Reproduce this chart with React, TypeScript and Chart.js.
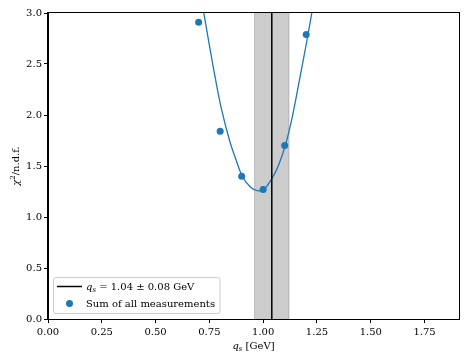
import React, { useEffect, useRef } from "react";
import { Chart, registerables } from "chart.js";

Chart.register(...registerables);

// ---- data ----
const measX = [0.7, 0.8, 0.9, 1.0, 1.1, 1.2];
const measY = [2.91, 1.84, 1.4, 1.27, 1.7, 2.79];
const measLabel = "Sum of all measurements";

const fitX = [0.72, 0.747, 0.775, 0.806, 0.845, 0.869, 0.903, 0.939, 0.973, 1.004, 1.04, 1.07, 1.104, 1.135, 1.17, 1.205, 1.23];
const fitY = [3.05, 2.72, 2.39, 2.06, 1.74, 1.59, 1.4, 1.297, 1.258, 1.272, 1.375, 1.5, 1.71, 1.98, 2.36, 2.75, 3.05];

const qsCentral = 1.04;
const qsError = 0.08;

const xTicks = [0, 0.25, 0.5, 0.75, 1.0, 1.25, 1.5, 1.75];
const yTicks = [0, 0.5, 1.0, 1.5, 2.0, 2.5, 3.0];
const xRange = [0, 1.91];
const yRange = [0, 3.0];

// ---- styling ----
const FAM = '"DejaVu Serif", serif';
const REG = `10px ${FAM}`;
const ITA = `italic 10px ${FAM}`;
const SUBI = `italic 7px ${FAM}`;
const SUP = `7px ${FAM}`;
const BLUE = "#1f77b4";

type Seg = { t: string; font: string; dy?: number };

function segsWidth(ctx: CanvasRenderingContext2D, segs: Seg[]) {
  let w = 0;
  for (const s of segs) {
    ctx.font = s.font;
    w += ctx.measureText(s.t).width;
  }
  return w;
}

function drawSegs(ctx: CanvasRenderingContext2D, segs: Seg[], x: number, y: number) {
  let cx = x;
  for (const s of segs) {
    ctx.font = s.font;
    ctx.fillText(s.t, cx, y + (s.dy || 0));
    cx += ctx.measureText(s.t).width;
  }
}

const xTitleSegs: Seg[] = [
  { t: "q", font: ITA },
  { t: "s", font: SUBI, dy: 2 },
  { t: " [GeV]", font: REG },
];
const yTitleSegs: Seg[] = [
  { t: "χ", font: ITA },
  { t: "2", font: SUP, dy: -4 },
  { t: "/n.d.f.", font: REG },
];
const qsLabelSegs: Seg[] = [
  { t: "q", font: ITA },
  { t: "s", font: SUBI, dy: 2 },
  { t: ` = ${qsCentral.toFixed(2)} ± ${qsError.toFixed(2)} GeV`, font: REG },
];

const bandPlugin = {
  id: "band",
  beforeDatasetsDraw(chart: any) {
    const { ctx, chartArea, scales } = chart;
    const x = scales.x;
    const l = x.getPixelForValue(qsCentral - qsError);
    const r = x.getPixelForValue(qsCentral + qsError);
    ctx.save();
    ctx.fillStyle = "rgba(128,128,128,0.4)";
    ctx.fillRect(l, chartArea.top, r - l, chartArea.bottom - chartArea.top);
    ctx.strokeStyle = "rgba(128,128,128,0.4)";
    ctx.lineWidth = 1;
    ctx.beginPath();
    ctx.moveTo(l, chartArea.top);
    ctx.lineTo(l, chartArea.bottom);
    ctx.moveTo(r, chartArea.top);
    ctx.lineTo(r, chartArea.bottom);
    ctx.stroke();
    ctx.restore();
  },
};

const decorPlugin = {
  id: "decor",
  afterDraw(chart: any) {
    const { ctx, chartArea } = chart;
    const { left, right, top, bottom } = chartArea;
    ctx.save();
    // frame
    ctx.strokeStyle = "#000";
    ctx.lineWidth = 1;
    ctx.strokeRect(Math.round(left) - 0.5, Math.round(top) - 0.5, Math.round(right) - Math.round(left) + 1, Math.round(bottom) - Math.round(top) + 1);

    // axis titles
    ctx.fillStyle = "#000";
    ctx.textBaseline = "alphabetic";
    const xw = segsWidth(ctx, xTitleSegs);
    drawSegs(ctx, xTitleSegs, (left + right) / 2 - xw / 2, 349);

    const yw = segsWidth(ctx, yTitleSegs);
    ctx.save();
    ctx.translate(19, (top + bottom) / 2);
    ctx.rotate(-Math.PI / 2);
    drawSegs(ctx, yTitleSegs, -yw / 2, 0);
    ctx.restore();

    // legend
    const ds = chart.data.datasets;
    const rows = [
      { kind: "line", segs: qsLabelSegs, color: ds[1].borderColor },
      { kind: "dot", segs: [{ t: ds[0].label, font: REG }], color: ds[0].backgroundColor },
    ];
    const x0 = left + 5.5;
    const textX = x0 + 32.5;
    let maxW = 0;
    for (const r of rows) maxW = Math.max(maxW, segsWidth(ctx, r.segs as Seg[]));
    const boxW = textX - x0 + maxW + 5;
    const rowH = 17;
    const boxH = rowH * rows.length + 2;
    const y0 = bottom - 5.5 - boxH;
    ctx.beginPath();
    (ctx as any).roundRect(x0, y0, boxW, boxH, 2.5);
    ctx.fillStyle = "rgba(255,255,255,0.8)";
    ctx.fill();
    ctx.strokeStyle = "#cccccc";
    ctx.lineWidth = 1;
    ctx.stroke();
    rows.forEach((r, i) => {
      const cy = y0 + 9 + i * rowH;
      if (r.kind === "line") {
        ctx.strokeStyle = r.color;
        ctx.lineWidth = 1.5;
        ctx.beginPath();
        ctx.moveTo(x0 + 3.5, cy);
        ctx.lineTo(x0 + 28.5, cy);
        ctx.stroke();
      } else {
        ctx.fillStyle = r.color;
        ctx.beginPath();
        ctx.arc(x0 + 16, cy, 3.5, 0, Math.PI * 2);
        ctx.fill();
      }
      ctx.fillStyle = "#000";
      drawSegs(ctx, r.segs as Seg[], textX, cy + 3.5);
    });
    ctx.restore();
  },
};

export default function App() {
  const ref = useRef<HTMLCanvasElement | null>(null);

  useEffect(() => {
    if (!ref.current) return;
    const chart = new Chart(ref.current, {
      type: "scatter",
      data: {
        datasets: [
          {
            label: measLabel,
            data: measX.map((x, i) => ({ x, y: measY[i] })),
            backgroundColor: BLUE,
            borderColor: BLUE,
            borderWidth: 0,
            pointRadius: 3.5,
            showLine: false,
            order: 0,
          },
          {
            label: "qs",
            data: [
              { x: qsCentral, y: yRange[0] },
              { x: qsCentral, y: yRange[1] },
            ],
            borderColor: "#000000",
            backgroundColor: "#000000",
            borderWidth: 1.5,
            pointRadius: 0,
            showLine: true,
            order: 1,
          },
          {
            label: "fit",
            data: fitX.map((x, i) => ({ x, y: fitY[i] })),
            borderColor: BLUE,
            backgroundColor: BLUE,
            borderWidth: 1.3,
            pointRadius: 0,
            showLine: true,
            tension: 0.4,
            order: 2,
          } as any,
        ],
      },
      options: {
        responsive: false,
        animation: false,
        layout: { padding: { left: 0, right: 8, top: 13, bottom: 0 } },
        plugins: {
          legend: { display: false },
          tooltip: { enabled: false },
        },
        scales: {
          x: {
            type: "linear",
            min: xRange[0],
            max: xRange[1],
            afterBuildTicks: (s: any) => {
              s.ticks = xTicks.map((v) => ({ value: v }));
            },
            afterFit: (s: any) => {
              s.height = 43;
            },
            ticks: {
              callback: (v: any) => Number(v).toFixed(2),
              font: { family: '"DejaVu Serif", serif', size: 10 },
              color: "#000",
              padding: 3,
              maxRotation: 0,
              autoSkip: false,
            },
            grid: { display: true, drawOnChartArea: false, drawTicks: true, tickLength: 4, tickColor: "#000", tickWidth: 1 },
            border: { display: true, color: "#000", width: 1 },
          },
          y: {
            type: "linear",
            min: yRange[0],
            max: yRange[1],
            afterBuildTicks: (s: any) => {
              s.ticks = yTicks.map((v) => ({ value: v }));
            },
            afterFit: (s: any) => {
              s.width = 48;
            },
            ticks: {
              callback: (v: any) => Number(v).toFixed(1),
              font: { family: '"DejaVu Serif", serif', size: 10 },
              color: "#000",
              padding: 2,
              autoSkip: false,
            },
            grid: { display: true, drawOnChartArea: false, drawTicks: true, tickLength: 4, tickColor: "#000", tickWidth: 1 },
            border: { display: true, color: "#000", width: 1 },
          },
        },
      },
      plugins: [bandPlugin, decorPlugin],
    });
    return () => chart.destroy();
  }, []);

  return (
    <div style={{ position: "absolute", left: 0, top: 0, width: 467, height: 362, background: "#fff" }}>
      <canvas ref={ref} width={467} height={362} />
    </div>
  );
}
